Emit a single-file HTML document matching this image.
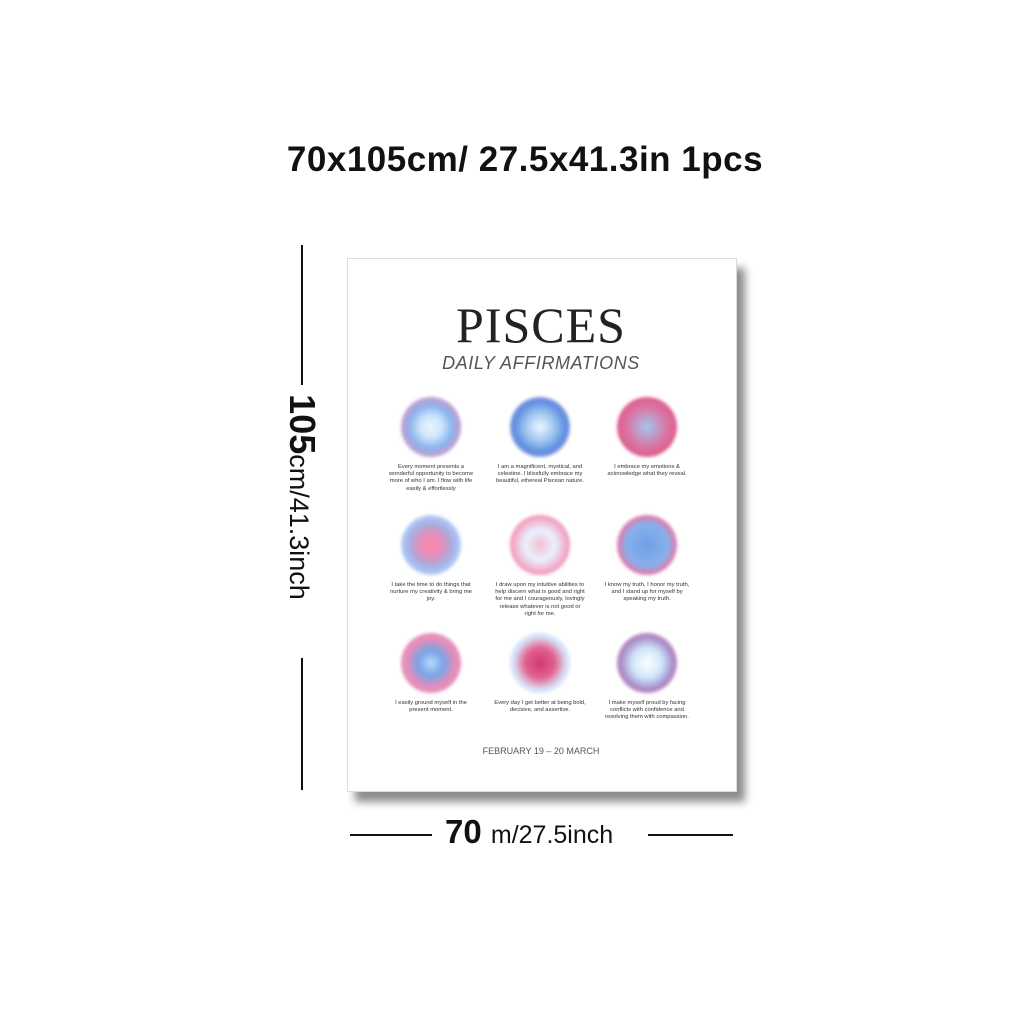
<!DOCTYPE html>
<html><head><style>
body{margin:0;width:1024px;height:1024px;background:#fff;position:relative;overflow:hidden;font-family:"Liberation Sans",sans-serif}
.a{position:absolute}
.c{position:absolute;width:60px;height:60px;border-radius:50%;filter:blur(1.5px)}
.t{position:absolute;width:92px;font-size:5.8px;line-height:7.2px;text-align:center;color:#333}
</style></head><body>
<div class="a" style="left:270px;top:140px;width:510px;text-align:center;font-size:35px;font-weight:bold;color:#111;letter-spacing:0.5px">70x105cm/ 27.5x41.3in 1pcs</div>
<div class="a" style="left:301px;top:245px;width:2px;height:140px;background:#111"></div>
<div class="a" style="left:302px;top:497px;transform:translate(-50%,-50%) rotate(90deg);white-space:nowrap;font-size:36px;font-weight:bold;color:#111">105<span style="font-size:27px;font-weight:normal">cm/41.3inch</span></div>
<div class="a" style="left:301px;top:658px;width:2px;height:132px;background:#111"></div>
<div class="a" style="left:350px;top:834px;width:82px;height:2px;background:#111"></div>
<div class="a" style="left:445px;top:813px;white-space:nowrap;font-size:33px;font-weight:bold;color:#111">70 <span style="font-size:25px;font-weight:normal">m/27.5inch</span></div>
<div class="a" style="left:648px;top:834px;width:85px;height:2px;background:#111"></div>
<div class="a" style="left:347px;top:258px;width:388px;height:532px;background:#fff;border:1px solid #ddd;box-shadow:8px 10px 8px rgba(0,0,0,0.45)"></div>
<div class="a" style="left:347px;top:296px;width:388px;text-align:center;font-family:'Liberation Serif',serif;font-size:50px;color:#222;letter-spacing:1px">PISCES</div>
<div class="a" style="left:347px;top:353px;width:388px;text-align:center;font-size:18px;font-style:italic;color:#555;letter-spacing:0.6px">DAILY AFFIRMATIONS</div>
<div class="c" style="left:401px;top:397px;background:radial-gradient(circle,#e8f6ff 0%,#cfe6fb 25%,#8ab4ee 50%,#f08cb4 85%,#fff 100%)"></div>
<div class="c" style="left:510px;top:397px;background:radial-gradient(circle,#eef8ff 0%,#9cc4f0 35%,#5e8ee0 60%,#c6a8df 88%,#fff 100%)"></div>
<div class="c" style="left:617px;top:397px;background:radial-gradient(circle,#a0c8f0 0%,#d878a6 45%,#e0588a 75%,#f4b2c8 92%,#fff 100%)"></div>
<div class="c" style="left:401px;top:515px;background:radial-gradient(circle,#f08cb4 0%,#f08cb4 22%,#b0a6d6 45%,#a6bdf0 60%,#d8efff 85%,#fff 100%)"></div>
<div class="c" style="left:510px;top:515px;background:radial-gradient(circle,#f4bcd0 0%,#eaf2ff 35%,#f2a4c4 65%,#e66a98 85%,#fff 100%)"></div>
<div class="c" style="left:617px;top:515px;background:radial-gradient(circle,#6fa0e6 0%,#88b0ec 50%,#e678a6 70%,#d8eeff 88%,#fff 100%)"></div>
<div class="c" style="left:401px;top:633px;background:radial-gradient(circle,#b8dbfa 0%,#78a4e6 30%,#ee8cb4 60%,#c4a8d8 88%,#fff 100%)"></div>
<div class="c" style="left:510px;top:633px;background:radial-gradient(circle,#cc3a72 0%,#e2608e 35%,#d8ecff 65%,#c8aee0 85%,#fff 100%)"></div>
<div class="c" style="left:617px;top:633px;background:radial-gradient(circle,#ffffff 0%,#cfe6fb 35%,#a68cc8 62%,#ee7aa6 82%,#fff 100%)"></div>
<div class="t" style="left:385px;top:464px">Every moment presents a wonderful opportunity to become more of who I am. I flow with life easily &amp; effortlessly</div>
<div class="t" style="left:494px;top:464px">I am a magnificent, mystical, and celestine. I blissfully embrace my beautiful, ethereal Piscean nature.</div>
<div class="t" style="left:601px;top:464px">I embrace my emotions &amp; acknowledge what they reveal.</div>
<div class="t" style="left:385px;top:582px">I take the time to do things that nurture my creativity &amp; bring me joy.</div>
<div class="t" style="left:494px;top:582px">I draw upon my intuitive abilities to help discern what is good and right for me and I courageously, lovingly release whatever is not good or right for me.</div>
<div class="t" style="left:601px;top:582px">I know my truth, I honor my truth, and I stand up for myself by speaking my truth.</div>
<div class="t" style="left:385px;top:700px">I easily ground myself in the present moment.</div>
<div class="t" style="left:494px;top:700px">Every day I get better at being bold, decisive, and assertive.</div>
<div class="t" style="left:601px;top:700px">I make myself proud by facing conflicts with confidence and resolving them with compassion.</div>
<div class="a" style="left:347px;top:746px;width:388px;text-align:center;font-size:9px;color:#555">FEBRUARY 19 – 20 MARCH</div>
</body></html>
